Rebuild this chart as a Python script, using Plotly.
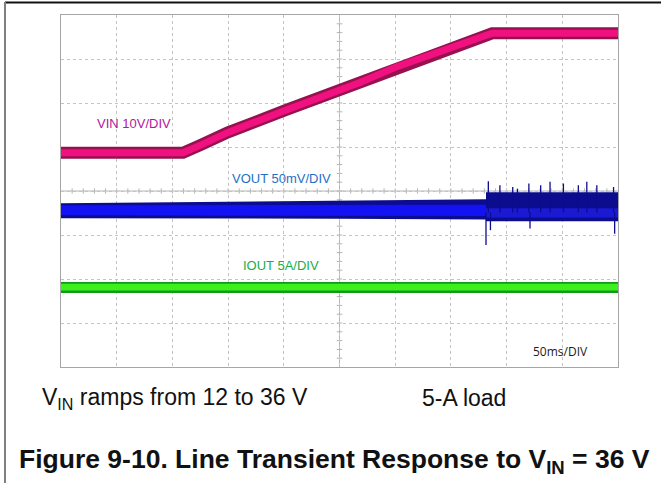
import plotly.graph_objects as go

# ---------------- data (read from the scope capture) ----------------
# time axis: 50 ms/div, 10 divisions
vin_t_ms = [0, 109.5, 124.8, 149.9, 201, 241.5, 268.4, 301.6, 351, 376, 387, 500]
vin_v = [12, 12, 13.5, 16.1, 20.5, 23.9, 26.1, 29.3, 33.1, 35.1, 36, 36]

vout_t_ms = [0, 250, 381.5, 381.5, 500]
vout_upper_mv = [4.5, 7, 9, 17, 17]
vout_lower_mv = [-12.5, -13, -14, -16, -16]
vout_core_upper_mv = [2.2, 3, 3, -1, -1]
vout_core_lower_mv = [-9.1, -9.5, -10, -11.5, -11.5]
vout_spike_t_ms = [381.5, 383.6, 394, 405.5, 409.7, 420, 430.6, 439, 451, 464.4, 472, 481, 496, 385.5, 421, 497]
vout_spike_mv = [-43, 29.5, 25, 23, 21, 27, 25, 29, 27, 25, 29, 25, 23, -26, -24, -30]

iout_t_ms = [0, 500]
iout_upper_a = [4.57, 4.57]
iout_lower_a = [3.3, 3.3]
iout_core_upper_a = [4.35, 4.35]
iout_core_lower_a = [3.6, 3.6]

x_ticks_ms = [0, 50, 100, 150, 200, 250, 300, 350, 400, 450, 500]
y_ticks_div = [-4, -3, -2, -1, 0, 1, 2, 3, 4]

# channel position mapping (divisions on screen)
VIN_DIV_PER_V = 0.1132
VIN_OFFSET_DIV = 0.868 - 12 * VIN_DIV_PER_V
C3_DIV = -0.37      # VOUT marker
VOUT_MV_PER_DIV = 50.0
C4_DIV = -2.98      # IOUT marker
IOUT_A_PER_DIV = 5.0


def vin_div(v):
    return [VIN_OFFSET_DIV + x * VIN_DIV_PER_V for x in v]


def vout_div(v):
    return [C3_DIV + x / VOUT_MV_PER_DIV for x in v]


def iout_div(v):
    return [C4_DIV + x / IOUT_A_PER_DIV for x in v]


def band(t, up, lo):
    return list(t) + list(reversed(t)), list(up) + list(reversed(lo))


fig = go.Figure()

# ---- IOUT (green) ----
bx, by = band(iout_t_ms, iout_div(iout_upper_a), iout_div(iout_lower_a))
fig.add_trace(go.Scatter(x=bx, y=by, fill="toself", fillcolor="#139a1a",
                         line=dict(width=0), mode="lines", hoverinfo="skip"))
bx, by = band(iout_t_ms, iout_div(iout_core_upper_a), iout_div(iout_core_lower_a))
fig.add_trace(go.Scatter(x=bx, y=by, fill="toself", fillcolor="#3cf01e",
                         line=dict(width=0), mode="lines", hoverinfo="skip"))

# ---- VOUT (blue) ----
bx, by = band(vout_t_ms, vout_div(vout_upper_mv), vout_div(vout_lower_mv))
fig.add_trace(go.Scatter(x=bx, y=by, fill="toself", fillcolor="#0c0c8e",
                         line=dict(width=0), mode="lines", hoverinfo="skip"))
core_before = 3
bx, by = band(vout_t_ms[:core_before], vout_div(vout_core_upper_mv[:core_before]),
              vout_div(vout_core_lower_mv[:core_before]))
fig.add_trace(go.Scatter(x=bx, y=by, fill="toself", fillcolor="#1212f2",
                         line=dict(width=0), mode="lines", hoverinfo="skip"))
bx, by = band(vout_t_ms[core_before:], vout_div(vout_core_upper_mv[core_before:]),
              vout_div(vout_core_lower_mv[core_before:]))
fig.add_trace(go.Scatter(x=bx, y=by, fill="toself", fillcolor="#1a1ad2",
                         line=dict(width=0), mode="lines", hoverinfo="skip"))
sx, sy = [], []
for t, v in zip(vout_spike_t_ms, vout_spike_mv):
    sx += [t, t, None]
    sy += [vout_div([-6])[0], vout_div([v])[0], None]
fig.add_trace(go.Scatter(x=sx, y=sy, mode="lines", line=dict(color="#0c0c8e", width=1.3),
                         hoverinfo="skip"))

# ---- VIN (magenta) ----
fig.add_trace(go.Scatter(x=vin_t_ms, y=vin_div(vin_v), mode="lines",
                         line=dict(color="#96124f", width=12), hoverinfo="skip"))
fig.add_trace(go.Scatter(x=vin_t_ms, y=vin_div(vin_v), mode="lines",
                         line=dict(color="#f0107f", width=7), hoverinfo="skip"))

# ---- markers (trigger level / position) ----
fig.add_trace(go.Scatter(x=[503.8], y=[2.0], mode="markers", cliponaxis=False,
                         marker=dict(symbol="triangle-left", size=7, color="#e8137c"),
                         hoverinfo="skip"))
fig.add_trace(go.Scatter(x=[210], y=[-4.07], mode="markers", cliponaxis=False,
                         marker=dict(symbol="triangle-up", size=6, color="#e8137c"),
                         hoverinfo="skip"))

shapes = []
# center cross with minor ticks (beneath the traces)
shapes.append(dict(type="line", xref="x", yref="y", x0=0, x1=500, y0=0, y1=0, layer="below",
                   line=dict(color="#b4b4b4", width=1)))
shapes.append(dict(type="line", xref="x", yref="y", x0=250, x1=250, y0=-4, y1=4, layer="below",
                   line=dict(color="#b4b4b4", width=1)))
for i in range(1, 50):
    t = i * 10
    shapes.append(dict(type="line", xref="x", yref="y", x0=t, x1=t, y0=-0.06, y1=0.06,
                       layer="below", line=dict(color="#b4b4b4", width=1)))
for i in range(1, 40):
    d = -4 + i * 0.2
    shapes.append(dict(type="line", xref="x", yref="y", x0=247.5, x1=252.5, y0=d, y1=d,
                       layer="below", line=dict(color="#b4b4b4", width=1)))

# channel ground markers on left
for lvl, col in [(0, "#e0307a"), (C3_DIV, "#3434d8"), (C4_DIV, "#2ccc2c")]:
    shapes.append(dict(type="line", xref="x", yref="y", x0=-7.5, x1=-1.0, y0=lvl, y1=lvl,
                       line=dict(color=col, width=2)))

# outer page frame: top rule and left edge (paper now spans the whole page)
shapes.append(dict(type="line", xref="paper", yref="paper", x0=0, x1=1,
                   y0=0.999, y1=0.999, line=dict(color="#111111", width=2)))
shapes.append(dict(type="line", xref="paper", yref="paper", x0=0.0, x1=0.0,
                   y0=1.0, y1=0.0, line=dict(color="#808080", width=2)))

annotations = [
    dict(x=30.5, y=1.54, xref="x", yref="y", text="VIN 10V/DIV", showarrow=False,
         xanchor="left", yanchor="middle", font=dict(family="Liberation Sans, Arial", size=13, color="#b4169c")),
    dict(x=151.7, y=0.28, xref="x", yref="y", text="VOUT 50mV/DIV", showarrow=False,
         xanchor="left", yanchor="middle", font=dict(family="Liberation Sans, Arial", size=13, color="#1f6fc6")),
    dict(x=161.6, y=-1.70, xref="x", yref="y", text="IOUT 5A/DIV", showarrow=False,
         xanchor="left", yanchor="middle", font=dict(family="Liberation Sans, Arial", size=13, color="#19ad4a")),
    dict(x=422, y=-3.64, xref="x", yref="y", text="50ms/DIV", showarrow=False,
         xanchor="left", yanchor="middle", font=dict(family="Open Sans", size=12, color="#1a1a1a")),
    dict(x=-4.3, y=0.1, xref="x", yref="y", text="C2", showarrow=False,
         xanchor="center", yanchor="bottom", font=dict(family="Liberation Sans", size=8, color="#e0307a")),
    dict(x=-4.3, y=C3_DIV + 0.1, xref="x", yref="y", text="C3", showarrow=False,
         xanchor="center", yanchor="bottom", font=dict(family="Liberation Sans", size=8, color="#3434d8")),
    dict(x=-4.3, y=C4_DIV + 0.1, xref="x", yref="y", text="C4", showarrow=False,
         xanchor="center", yanchor="bottom", font=dict(family="Liberation Sans", size=8, color="#2ccc2c")),
    dict(x=0.05335, y=0.1767, xref="paper", yref="paper",
         text="V<sub>IN</sub> ramps from 12 to 36 V", showarrow=False,
         xanchor="left", yanchor="middle", font=dict(family="Liberation Sans, Arial", size=23, color="#111111")),
    dict(x=0.6326, y=0.1767, xref="paper", yref="paper", text="5-A load", showarrow=False,
         xanchor="left", yanchor="middle", font=dict(family="Liberation Sans, Arial", size=23, color="#111111")),
    dict(x=0.5027, y=0.0457, xref="paper", yref="paper",
         text="<b>Figure 9-10. Line Transient Response to V<sub>IN</sub> = 36 V</b>", showarrow=False,
         xanchor="center", yanchor="middle", font=dict(family="Liberation Sans, Arial", size=26.5, color="#111111")),
]

axis_common = dict(showgrid=True, gridcolor="#c4c4c4", griddash="dot", gridwidth=1,
                   zeroline=False, showticklabels=False, ticks="", showline=True,
                   linecolor="#a6a6a6", linewidth=1, mirror=True)

fig.update_layout(
    width=661, height=483,
    margin=dict(l=5, r=0, t=2, b=0, pad=0),
    paper_bgcolor="white", plot_bgcolor="white",
    showlegend=False,
    xaxis=dict(range=[0, 500], tickvals=x_ticks_ms, domain=[0.08537, 0.93445], **axis_common),
    yaxis=dict(range=[-4, 4], tickvals=y_ticks_div, domain=[0.24116, 0.97297], **axis_common),
    shapes=shapes,
    annotations=annotations,
)

fig.write_html("out.html", config={"displayModeBar": False},
               post_script="document.body.style.margin='0';document.body.style.overflow='hidden';")
